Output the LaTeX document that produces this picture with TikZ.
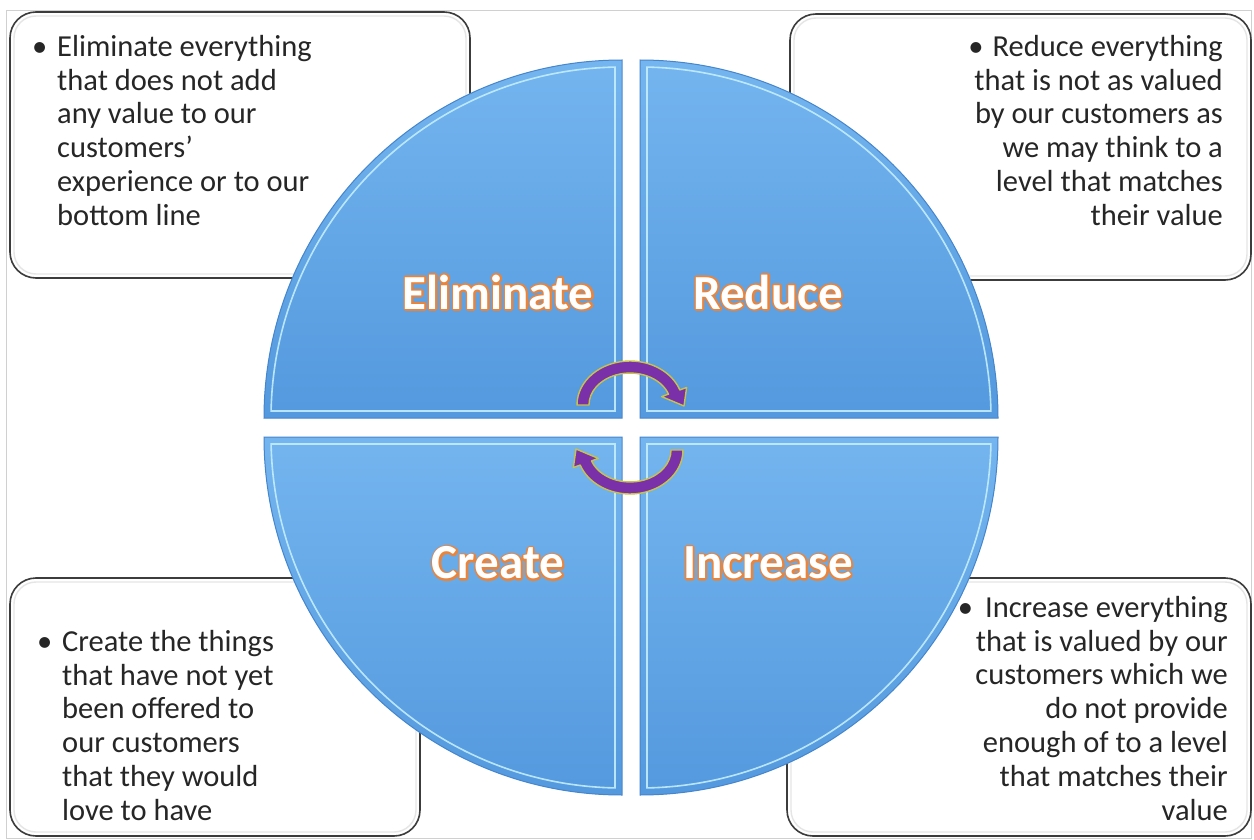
\documentclass[tikz,border=0pt]{standalone}
\usepackage{fontspec}
\setmainfont{Carlito}
\usetikzlibrary{calc}

\definecolor{quadtop}{HTML}{74B5EF}
\definecolor{quadbot}{HTML}{5499DE}
\definecolor{quadedge}{HTML}{4585CC}
\definecolor{bevellight}{HTML}{C4EEFF}
\definecolor{arrowfill}{HTML}{7A30A8}
\definecolor{arrowrim}{HTML}{C8C24A}
\definecolor{boxline}{HTML}{3C3C3C}
\definecolor{bodytext}{HTML}{262626}
\definecolor{framegray}{HTML}{D0D0D0}

% white lettering over an orange stroked rim (PDF text render mode 1 underneath)
\newcommand\rimtext[1]{%
  \rlap{\textcolor{white}{%
    \special{pdf:literal direct 1 Tr 3.6 w 1 j 0.914 0.518 0.235 RG}#1%
    \special{pdf:literal direct 0 Tr 0.4 w 0 j}}}%
  \textcolor{white}{#1}}

\tikzset{
  notebox/.style={draw=boxline, line width=1.6pt, fill=white, rounded corners=26pt},
  noteinner/.style={draw=black!10, line width=1.4pt, rounded corners=22pt},
  quadfill/.style={top color=quadtop, bottom color=quadbot, draw=quadedge, line width=1pt},
  bevelline/.style={draw=bevellight, line width=1.6pt, opacity=0.9},
  bodytxt/.style={inner sep=0pt, text=bodytext, font=\fontsize{30.5}{33.8}\selectfont},
  quadlabel/.style={inner sep=0pt, font=\fontsize{49}{54}\selectfont\bfseries},
  cyclearrow/.style={fill=arrowfill, draw=arrowrim, line width=1.4pt, line join=round},
}

\begin{document}
\begin{tikzpicture}[x=1pt, y=-1pt]
  % page and thin slide frame
  \fill[white] (0,0) rectangle (1254,840);
  \useasboundingbox (0,0) rectangle (1254,840);
  \draw[framegray, line width=1pt] (6.5,10.5) rectangle (1251.5,838.5);

  % note boxes
  \draw[notebox] (10,12) rectangle (470,278);
  \draw[noteinner] (14,16) rectangle (466,274);
  \draw[notebox] (790,14) rectangle (1251,280);
  \draw[noteinner] (794,18) rectangle (1247,276);
  \draw[notebox] (10,578) rectangle (420,836);
  \draw[noteinner] (14,582) rectangle (416,832);
  \draw[notebox] (787,578) rectangle (1251,836);
  \draw[noteinner] (791,582) rectangle (1247,832);

  % four quarter discs with a bevel line
  \foreach \cx/\cy/\a in {622/418/180, 640/418/270, 640/437/0, 622/437/90}{
    \path[quadfill] (\cx,\cy) -- ++(\a:358)
      arc[start angle=\a, end angle=\a+90, radius=358] -- cycle;
    \draw[bevelline] (\cx,\cy) ++(\a+1.143:351)
      arc[start angle=\a+1.143, end angle=\a+88.857, radius=351]
      -- ($(\cx,\cy)+(\a+45:9.9)$) -- cycle;
  }

  % quadrant labels
  \node[quadlabel] (elim) at (498,292) {\rimtext{Eliminate}};
  \node[quadlabel] (redu) at (768,292) {\rimtext{Reduce}};
  \node[quadlabel] (crea) at (498,563) {\rimtext{Create}};
  \node[quadlabel] (incr) at (768,563) {\rimtext{Increase}};

  % cycle arrows in the middle
  \path[cyclearrow] (577,405)
    arc[start angle=180, end angle=340, x radius=53, y radius=44]
    -- (686.6,387.5) -- (684,406) -- (661.7,396.6) -- (668.5,394.1)
    arc[start angle=340, end angle=180, x radius=41, y radius=32] -- cycle;
  \path[cyclearrow, rotate around={180:(630,427.5)}] (577,405)
    arc[start angle=180, end angle=340, x radius=53, y radius=44]
    -- (686.6,387.5) -- (684,406) -- (661.7,396.6) -- (668.5,394.1)
    arc[start angle=340, end angle=180, x radius=41, y radius=32] -- cycle;

  % note texts
  \node[bodytxt, anchor=north west, align=left] (tltext) at (57,35)
    {\llap{•\hspace{10pt}}Eliminate everything\\that does not add\\any value to our\\customers’\\experience or to our\\bottom line};
  \node[bodytxt, anchor=north east, align=right] (trtext) at (1223,35)
    {•\hspace{9pt}Reduce everything\\that is not as valued\\by our customers as\\we may think to a\\level that matches\\their value};
  \node[bodytxt, anchor=north west, align=left] (bltext) at (62,630)
    {\llap{•\hspace{10pt}}Create the things\\that have not yet\\been offered to\\our customers\\that they would\\love to have};
  \node[bodytxt, anchor=north east, align=right] (brtext) at (1228,596)
    {•\hspace{12pt}Increase everything\\that is valued by our\\customers which we\\do not provide\\enough of to a level\\that matches their\\value};
\end{tikzpicture}
\end{document}
